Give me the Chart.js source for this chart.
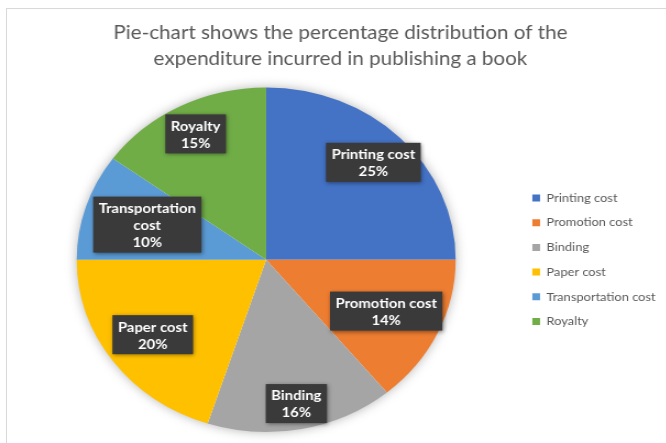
<!DOCTYPE html>
<html>
<head>
<meta charset="utf-8">
<script src="https://cdn.jsdelivr.net/npm/chart.js@4/dist/chart.umd.min.js"></script>
<style>
  html, body { margin: 0; padding: 0; background: #fff; overflow: hidden; }
  #frame { position: absolute; left: 6px; top: 8px; width: 700px; height: 500px; border: 1px solid #d9d9d9; }
  #wrap { position: absolute; left: 0; top: 0; width: 606px; height: 443px; transform: scaleX(1.1); transform-origin: 0 0; }
</style>
</head>
<body>
<div id="frame"></div>
<div id="wrap"><canvas id="pieChart"></canvas></div>
<script>
const categories = ['Printing cost', 'Promotion cost', 'Binding', 'Paper cost', 'Transportation cost', 'Royalty'];
const shares = [25, 14, 16, 20, 10, 15];
const sliceColors = ['#4472C4', '#ED7D31', '#A5A5A5', '#FFC000', '#5B9BD5', '#70AD47'];
// how the data labels wrap inside their boxes
const labelLines = [['Printing cost'], ['Promotion cost'], ['Binding'], ['Paper cost'], ['Transportation', 'cost'], ['Royalty']];
// label distance from centre, as a fraction of the radius
const labelRadius = [0.80, 0.70, 0.85, 0.74, 0.66, 0.82];

const FONT = 'Lato, "Open Sans", sans-serif';

const pieShadow = {
  id: 'pieShadow',
  beforeDatasetsDraw(chart) {
    const arc = chart.getDatasetMeta(0).data[0];
    if (!arc) return;
    const ctx = chart.ctx;
    ctx.save();
    ctx.shadowColor = 'rgba(0,0,0,0.35)';
    ctx.shadowBlur = 12;
    ctx.fillStyle = '#fff';
    ctx.beginPath();
    ctx.arc(arc.x, arc.y, arc.outerRadius - 1, 0, Math.PI * 2);
    ctx.fill();
    ctx.restore();
  }
};

const boxLabels = {
  id: 'boxLabels',
  afterDatasetsDraw(chart) {
    const ctx = chart.ctx;
    const lineH = 17;
    chart.getDatasetMeta(0).data.forEach((arc, i) => {
      const mid = (arc.startAngle + arc.endAngle) / 2;
      const r = arc.outerRadius * labelRadius[i];
      const cx = arc.x + Math.cos(mid) * r;
      const cy = arc.y + Math.sin(mid) * r;
      const lines = labelLines[i].concat([shares[i] + '%']);
      ctx.save();
      ctx.font = 'bold 13.5px ' + FONT;
      const w = Math.max(...lines.map(l => ctx.measureText(l).width)) + 10;
      const h = lines.length * lineH + 5;
      ctx.shadowColor = 'rgba(0,0,0,0.45)';
      ctx.shadowBlur = 4;
      ctx.shadowOffsetX = 1;
      ctx.shadowOffsetY = 1;
      ctx.fillStyle = '#3a3a3a';
      ctx.fillRect(cx - w / 2, cy - h / 2, w, h);
      ctx.shadowColor = 'transparent';
      ctx.fillStyle = '#ffffff';
      ctx.textAlign = 'center';
      ctx.textBaseline = 'middle';
      lines.forEach((l, k) => {
        ctx.fillText(l, cx, cy - h / 2 + 2.5 + lineH * k + lineH / 2 + 1);
      });
      ctx.restore();
    });
  }
};

new Chart(document.getElementById('pieChart'), {
  type: 'pie',
  data: {
    labels: categories,
    datasets: [{
      data: shares,
      backgroundColor: sliceColors,
      borderWidth: 0
    }]
  },
  options: {
    responsive: true,
    maintainAspectRatio: false,
    animation: false,
    layout: { padding: { left: 13, right: 0, top: 0, bottom: 11 } },
    plugins: {
      title: {
        display: true,
        text: ['Pie-chart shows the percentage distribution of the', 'expenditure incurred in publishing a book'],
        color: '#595959',
        font: { family: FONT, size: 18.75, weight: 'normal', lineHeight: 1.4 },
        padding: { top: 20, bottom: 15 }
      },
      legend: {
        display: true,
        position: 'right',
        fullSize: false,
        labels: {
          boxWidth: 7,
          boxHeight: 7,
          padding: 13,
          color: '#595959',
          font: { family: FONT, size: 11.7 }
        }
      },
      tooltip: { enabled: false }
    }
  },
  plugins: [pieShadow, boxLabels]
});
</script>
</body>
</html>
